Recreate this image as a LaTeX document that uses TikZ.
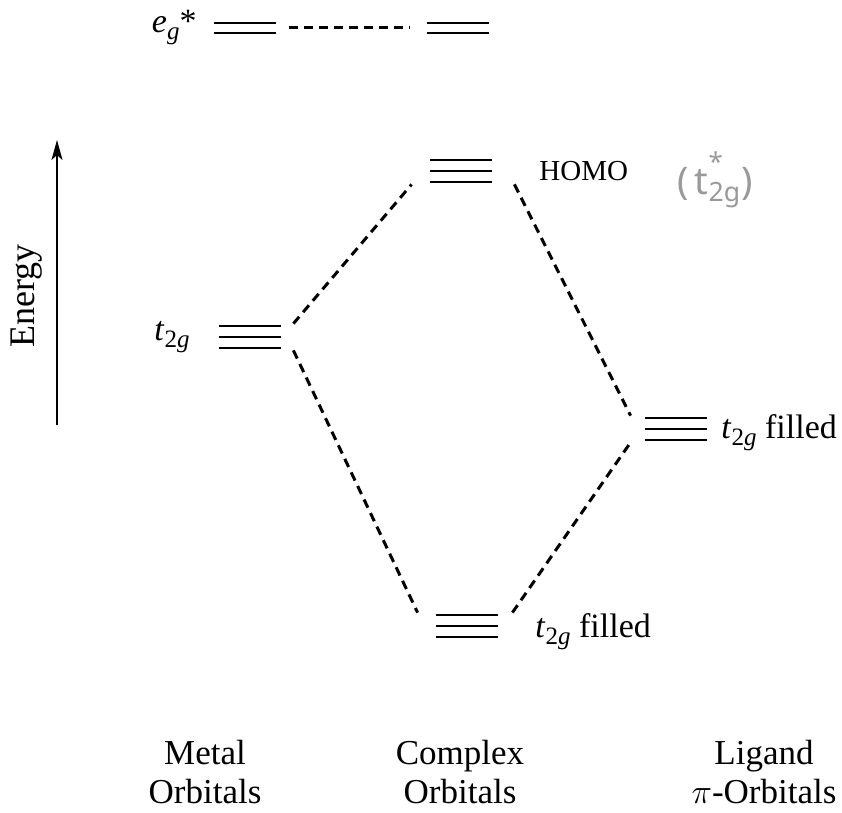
\documentclass[tikz,border=0pt]{standalone}
\usepackage{fontspec}
\setmainfont{Liberation Serif}
\newfontfamily\handfont{Noto Sans}
\usetikzlibrary{arrows.meta,positioning}
\newcommand{\ttwog}{\textit{t}\raisebox{-0.45ex}{\fontsize{12.5}{12.5}\selectfont 2\textit{g}}}
\newcommand{\egstar}{\textit{e}\raisebox{-0.45ex}{\fontsize{12.5}{12.5}\selectfont\textit{g}}*}
\tikzset{
triple_box/.style={
	% The shape:
	rectangle,
	inner sep=0pt,
	% The size:
	minimum width=31pt,
	minimum height=13pt,
	% Three levels, drawn inside the box:
	path picture={
		\draw[line width=1.3pt] ([yshift=-1pt]path picture bounding box.north west)
			-- ([yshift=-1pt]path picture bounding box.north east);
		\draw[line width=1.3pt] (path picture bounding box.west)
			-- (path picture bounding box.east);
		\draw[line width=1.3pt] ([yshift=1pt]path picture bounding box.south west)
			-- ([yshift=1pt]path picture bounding box.south east);
	}
},
double_box/.style={
	% The shape:
	rectangle,
	inner sep=0pt,
	% The size:
	minimum width=31pt,
	minimum height=7pt,
	% Two levels:
	path picture={
		\draw[line width=1.3pt] ([yshift=-1pt]path picture bounding box.north west)
			-- ([yshift=-1pt]path picture bounding box.north east);
		\draw[line width=1.3pt] ([yshift=1pt]path picture bounding box.south west)
			-- ([yshift=1pt]path picture bounding box.south east);
	}
},
link_line/.style={
	% The dashes:
	line width=1.5pt,
	dash pattern=on 4.5pt off 3pt
},
level_text/.style={
	% Font
	font=\fontsize{17}{20}\selectfont
},
column_text/.style={
	align=center,
	% Font
	font=\fontsize{17.5}{19.5}\selectfont
}
}

\begin{document}
\begin{tikzpicture}[x=0.5pt, y=-0.5pt, black, text=black]
\useasboundingbox (0,0) rectangle (842,813);
% energy axis
\coordinate (e_low) at (57,425);
\coordinate (e_high) at (57,140);
\draw[line width=0.9pt, -{Stealth[length=10pt, width=5.5pt, inset=2.5pt]}] (e_low) -- (e_high);
\node[rotate=90, font=\fontsize{18}{20}\selectfont] (energy) at (27,296) {Energy};
% levels
\node[double_box] (eg_m) at (245,28) {};
\node[double_box] (eg_c) at (458,28) {};
\node[triple_box] (t_m) at (250,337) {};
\node[triple_box] (homo) at (461,171) {};
\node[triple_box] (lig) at (676,429) {};
\node[triple_box] (low) at (467,626) {};
% labels of the levels
\node[level_text, left=5pt of eg_m] (eg_lab) {\egstar};
\node[level_text, left=11pt of t_m] (t_lab) {\ttwog};
\node[font=\fontsize{14.5}{17}\selectfont, right=20pt of homo] (homo_lab) {HOMO};
\node[font=\handfont\fontsize{19}{22}\selectfont, text=black!40] (star_lab) at (715,180)
	{(\,t\rlap{\raisebox{1.1ex}{\fontsize{13}{13}\selectfont*}}\textsubscript{2g})};
\node[level_text, right=3.5pt of lig, yshift=-2pt] (lig_lab) {\ttwog{} filled};
\node[level_text, right=15pt of low, yshift=-3pt] (low_lab) {\ttwog{} filled};
% correlation lines
\draw[link_line] ([xshift=6.5pt]eg_m.east) -- ([xshift=-8.5pt]eg_c.west);
\draw[link_line] ([xshift=6pt]t_m.north east) -- ([xshift=-9pt]homo.south west);
\draw[link_line] ([xshift=6pt]t_m.south east) -- ([xshift=-9pt]low.north west);
\draw[link_line] ([xshift=11pt]homo.south east) -- ([xshift=-7pt]lig.north west);
\draw[link_line] ([xshift=7pt]low.north east) -- ([xshift=-7pt]lig.south west);
% column names
\node[column_text] (metal) at (205,772) {Metal\\Orbitals};
\node[column_text] (complex) at (460,772) {Complex\\Orbitals};
\node[column_text] (ligand) at (764,772) {Ligand\\$\pi$-Orbitals};
\end{tikzpicture}
\end{document}
